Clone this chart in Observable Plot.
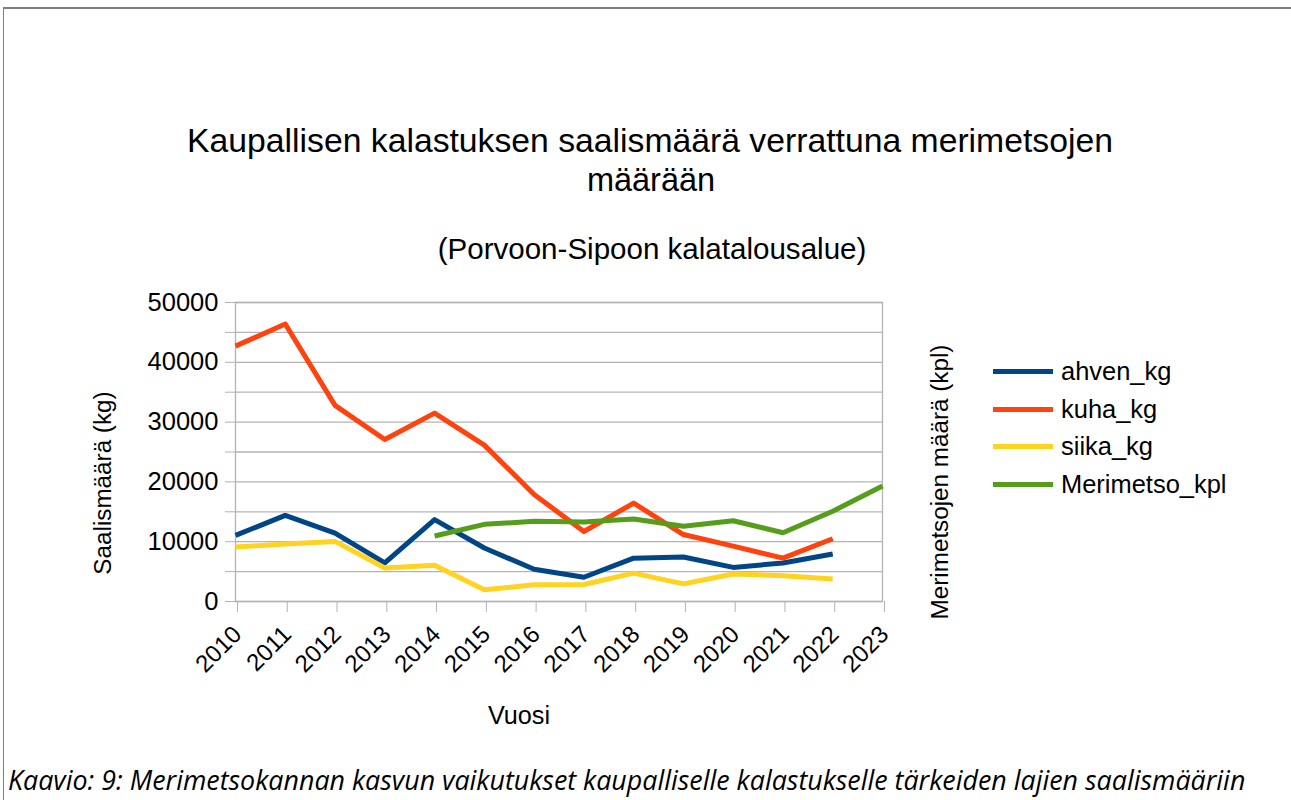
<!DOCTYPE html>
<html>
<head>
<meta charset="utf-8">
<script src="https://cdn.jsdelivr.net/npm/d3@7"></script>
<script src="https://cdn.jsdelivr.net/npm/@observablehq/plot@0.6"></script>
<style>
  html, body { margin: 0; padding: 0; background: #fff; }
  #wrap { position: relative; width: 1291px; height: 800px; overflow: hidden; font-family: "Liberation Sans", Arial, sans-serif; color: #000; }
  #frame { position: absolute; left: 3px; top: 7px; width: 1400px; height: 900px; border-top: 2px solid #7f7f7f; border-left: 1px solid #7f7f7f; }
  .c { position: absolute; transform: translate(-50%, -50%); white-space: nowrap; }
  .rot { position: absolute; transform: translate(-50%, -50%) rotate(-90deg); white-space: nowrap; }
  #chart { position: absolute; left: 0; top: 0; }
  .leg { position: absolute; left: 993px; }
  .leg span.sw { position: absolute; left: 0; width: 60px; height: 5px; top: -2.5px; }
  .leg span.t { position: absolute; left: 68px; top: 0; transform: translateY(-50%); white-space: nowrap; }
  #caption { position: absolute; left: 8px; top: 766px; line-height: 28px; font-family: "Open Sans", sans-serif; font-style: italic; font-size: 27px; white-space: nowrap; transform-origin: 0 0; }
</style>
</head>
<body>
<div id="wrap">
  <div id="frame"></div>
  <div id="chart"></div>
  <div class="c" id="t1" style="left:650px; top:140px; font-size:33px;">Kaupallisen kalastuksen saalismäärä verrattuna merimetsojen</div>
  <div class="c" id="t2" style="left:651px; top:180px; font-size:33px;">määrään</div>
  <div class="c" id="t3" style="left:652px; top:249px; font-size:29px;">(Porvoon-Sipoon kalatalousalue)</div>
  <div class="rot" id="ly" style="left:103px; top:483px; font-size:24px;">Saalismäärä (kg)</div>
  <div class="rot" id="ly2" style="left:940px; top:482px; font-size:24px;">Merimetsojen määrä (kpl)</div>
  <div class="c" id="lx" style="left:519px; top:715px; font-size:24px;">Vuosi</div>
  <div id="legend"></div>
  <div id="caption">Kaavio: 9: Merimetsokannan kasvun vaikutukset kaupalliselle kalastukselle tärkeiden lajien saalismääriin</div>
</div>
<script>
const years = ["2010","2011","2012","2013","2014","2015","2016","2017","2018","2019","2020","2021","2022","2023"];
const ahven_kg = [11050, 14400, 11450, 6450, 13700, 8950, 5400, 4050, 7250, 7450, 5700, 6450, 7950, null];
const kuha_kg = [42700, 46400, 32800, 27100, 31500, 26150, 17900, 11700, 16450, 11200, 9250, 7250, 10500, null];
const siika_kg = [9100, 9600, 10050, 5600, 6050, 1950, 2800, 2850, 4750, 2950, 4600, 4300, 3750, null];
const merimetso_kpl = [null, null, null, null, 10950, 12900, 13400, 13300, 13800, 12600, 13500, 11500, 15100, 19300];
const seriesNames = ["ahven_kg", "kuha_kg", "siika_kg", "Merimetso_kpl"];
const seriesColors = ["#004586", "#ff420e", "#ffd320", "#579d1c"];
const yTicks = d3.range(0, 50001, 5000);

const seriesValues = [ahven_kg, kuha_kg, siika_kg, merimetso_kpl];
const data = [];
seriesNames.forEach((name, i) => {
  years.forEach((yr, j) => {
    const v = seriesValues[i][j];
    if (v != null) data.push({series: name, year: yr, value: v});
  });
});

const chart = Plot.plot({
  width: 1291,
  height: 800,
  marginLeft: 235,
  marginRight: 409,
  marginTop: 302,
  marginBottom: 199,
  style: {fontFamily: "Liberation Sans, Arial, sans-serif", fontSize: "24px", color: "#000", background: "transparent"},
  x: {type: "point", domain: years, padding: 0, round: false},
  y: {domain: [0, 50000]},
  color: {domain: seriesNames, range: seriesColors},
  marks: [
    Plot.gridY(yTicks, {stroke: "#b3b3b3", strokeOpacity: 1, strokeWidth: 1.3}),
    Plot.frame({stroke: "#b3b3b3", strokeWidth: 1.3}),
    Plot.axisY({ticks: yTicks, tickFormat: d => d % 10000 === 0 ? String(d) : "", tickSize: 10, tickPadding: 7, stroke: "#b3b3b3", strokeOpacity: 1, label: null, fontSize: 25.5, fill: "#000"}),
    Plot.axisX({tickRotate: -45, tickSize: 11, tickPadding: 18, dx: 2, stroke: "#b3b3b3", strokeOpacity: 1, label: null, fontSize: 24, fill: "#000"}),
    Plot.line(data, {x: "year", y: "value", z: "series", stroke: "series", strokeWidth: 5, strokeLinejoin: "round", strokeLinecap: "butt"})
  ]
});
document.getElementById("chart").appendChild(chart);

const legend = document.getElementById("legend");
const legendY = [371, 409, 446, 484];
seriesNames.forEach((name, i) => {
  const d = document.createElement("div");
  d.className = "leg";
  d.style.top = legendY[i] + "px";
  d.innerHTML = `<span class="sw" style="background:${seriesColors[i]}"></span><span class="t" style="font-size:25px">${name}</span>`;
  legend.appendChild(d);
});

// fit text sizes to the measured widths of the reference
function fit(el, target) {
  const fs = parseFloat(getComputedStyle(el).fontSize);
  const w = el.offsetWidth;
  if (w > 0) el.style.fontSize = (fs * target / w) + "px";
}
fit(document.getElementById("t1"), 926);
fit(document.getElementById("t2"), 128);
fit(document.getElementById("t3"), 429);
fit(document.getElementById("ly"), 183);
fit(document.getElementById("ly2"), 275);
fit(document.getElementById("lx"), 62);
const legTexts = document.querySelectorAll(".leg span.t");
{
  const last = legTexts[legTexts.length - 1];
  const fs = parseFloat(getComputedStyle(last).fontSize);
  const ns = fs * 166 / last.offsetWidth;
  legTexts.forEach(t => t.style.fontSize = ns + "px");
}
const cap = document.getElementById("caption");
cap.style.transform = `scaleX(${1237 / cap.offsetWidth})`;
</script>
</body>
</html>
